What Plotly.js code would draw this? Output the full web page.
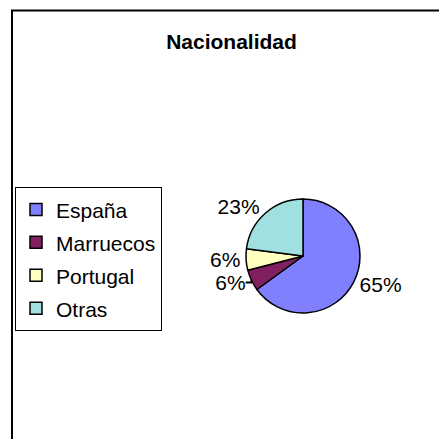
<!DOCTYPE html>
<html>
<head>
<meta charset="utf-8">
<script src="https://cdn.plot.ly/plotly-3.0.1.min.js"></script>
<style>html,body{margin:0;padding:0;background:#fff;}#chart{width:439px;height:439px;}</style>
</head>
<body>
<div id="chart"></div>
<script>
var categories = ["España", "Marruecos", "Portugal", "Otras"];
var values = [65, 6, 6, 23];
var colors = ["#8080FF", "#802060", "#FFFFC0", "#A0E0E0"];
var chartTitle = "Nacionalidad";

var W = 439, H = 439;
var font = "Arial, 'Liberation Sans', sans-serif";

// legend line height comes from legend font size (23), text drawn at 21px
var legendLabels = categories.map(function (c) {
  return '<span style="font-size:21px">' + c + '</span>';
});

var trace = {
  type: "pie",
  labels: legendLabels,
  values: values,
  sort: false,
  direction: "clockwise",
  rotation: 0,
  marker: {colors: colors, line: {color: "#000", width: 1.5}},
  texttemplate: "%{percent:.0%}",
  textposition: "outside",
  textfont: {family: font, size: 21, color: "#000"},
  outsidetextfont: {family: font, size: 21, color: "#000"},
  hoverinfo: "skip",
  domain: {x: [246/W, 360/W], y: [1 - 313/H, 1 - 199/H]}
};

var layout = {
  width: W, height: H,
  margin: {l: 0, r: 0, t: 0, b: 0},
  paper_bgcolor: "#fff",
  plot_bgcolor: "#fff",
  title: {
    text: "<b>" + chartTitle + "</b>",
    font: {family: font, size: 21, color: "#000"},
    x: 231.5/W, xanchor: "center",
    y: 1 - 42/H, yanchor: "middle"
  },
  showlegend: true,
  legend: {
    x: 15/W, xanchor: "left",
    y: 1 - 259/H, yanchor: "middle",
    bordercolor: "#000", borderwidth: 1,
    bgcolor: "#fff",
    font: {family: font, size: 23, color: "#000"},
    traceorder: "normal"
  },
  shapes: [{
    type: "rect", xref: "paper", yref: "paper",
    x0: 12/W, x1: 1.2, y0: -0.2, y1: 1 - 10.5/H,
    line: {color: "#000", width: 2}, fillcolor: "rgba(0,0,0,0)", layer: "below"
  }]
};

Plotly.newPlot("chart", [trace], layout, {staticPlot: true, displayModeBar: false});
</script>
</body>
</html>
